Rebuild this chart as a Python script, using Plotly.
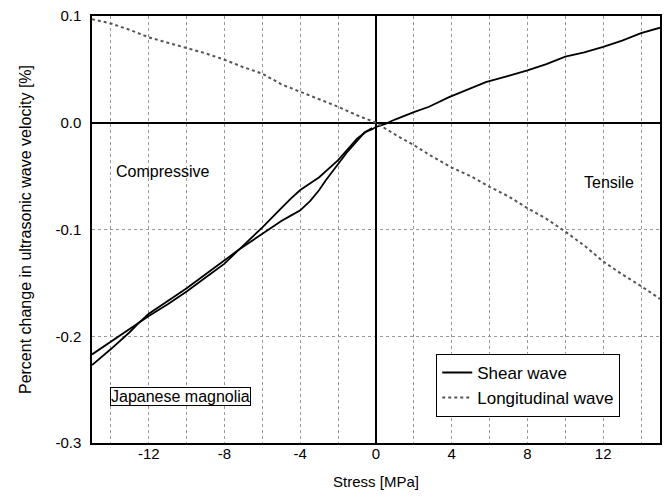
import plotly.graph_objects as go

# Shear wave, compressive branch 1 (lower at far left)
shear_b_x = [-15, -14, -13, -12.5, -12, -11, -10, -9, -8, -7.25, -6, -5, -4.5, -4, -3.46, -3, -2.66, -2, -1.5, -1, -0.6, -0.2, 0]
shear_b_y = [-0.227, -0.212, -0.196, -0.187, -0.179, -0.167, -0.155, -0.142, -0.129, -0.119, -0.104, -0.092, -0.087, -0.082, -0.073, -0.063, -0.054, -0.038, -0.027, -0.017, -0.009, -0.006, -0.004]
# Shear wave, tensile part
shear_t_x = [0, 0.5, 1, 2, 2.8, 3.86, 5, 5.8, 7, 8, 9, 10, 11, 12, 13, 14, 15]
shear_t_y = [-0.004, -0.001, 0.003, 0.010, 0.015, 0.024, 0.032, 0.038, 0.044, 0.049, 0.055, 0.062, 0.066, 0.071, 0.077, 0.084, 0.089]
# Shear wave, compressive branch 2 (upper at far left)
shear_a_x = [-15, -14, -13, -12.5, -12, -11, -10, -9, -8, -7.25, -6, -5, -4.5, -4, -3, -2, -1.5, -1, -0.5, -0.2]
shear_a_y = [-0.217, -0.205, -0.193, -0.187, -0.181, -0.170, -0.158, -0.145, -0.132, -0.119, -0.098, -0.080, -0.071, -0.063, -0.051, -0.035, -0.025, -0.015, -0.008, -0.005]
# Longitudinal wave
long_x = [-15, -14, -13, -12, -11, -10, -9, -8, -7, -6, -5, -4, -3, -2, -1, 0, 1, 2, 3, 4, 5, 6, 7, 8, 9, 10, 11, 12, 13, 14, 15]
long_y = [0.097, 0.093, 0.087, 0.080, 0.075, 0.070, 0.065, 0.059, 0.052, 0.046, 0.036, 0.029, 0.022, 0.015, 0.007, 0.0,
          -0.011, -0.021, -0.032, -0.042, -0.050, -0.060, -0.069, -0.080, -0.090, -0.102, -0.115, -0.130, -0.142, -0.153, -0.165]

x_ticks = [-12, -8, -4, 0, 4, 8, 12]
x_labels = ["-12", "-8", "-4", "0", "4", "8", "12"]
y_ticks = [0.1, 0.0, -0.1, -0.2, -0.3]
y_labels = ["0.1", "0.0", "-0.1", "-0.2", "-0.3"]

FONT = "Liberation Sans, Arial, sans-serif"

fig = go.Figure()
fig.add_trace(go.Scatter(
    x=shear_b_x + shear_t_x[1:] + [None] + shear_a_x,
    y=shear_b_y + shear_t_y[1:] + [None] + shear_a_y,
    mode="lines", name="Shear wave",
    line=dict(color="black", width=1.8),
))
fig.add_trace(go.Scatter(
    x=long_x, y=long_y, mode="lines", name="Longitudinal wave",
    line=dict(color="#555555", width=2, dash="dot"),
))

fig.add_annotation(x=-11.3, y=-0.046, text="Compressive", showarrow=False,
                   font=dict(family=FONT, size=16, color="black"))
fig.add_annotation(x=12.3, y=-0.056, text="Tensile", showarrow=False,
                   font=dict(family=FONT, size=16, color="black"))
fig.add_annotation(x=-10.3, y=-0.2567, text="Japanese magnolia", showarrow=False,
                   font=dict(family=FONT, size=16, color="black"),
                   bordercolor="black", borderwidth=1, borderpad=0, bgcolor="white")

axis_common = dict(
    showline=True, linecolor="black", linewidth=1.5, mirror=True,
    ticks="", gridcolor="#999999", griddash="dot", gridwidth=1,
    zeroline=True, zerolinecolor="black", zerolinewidth=1.5,
    tickfont=dict(family=FONT, size=15, color="black"),
)

fig.update_layout(
    width=669, height=500,
    margin=dict(l=92, r=7, t=14, b=57),
    plot_bgcolor="white", paper_bgcolor="white",
    font=dict(family=FONT, size=16, color="black"),
    showlegend=True,
    legend=dict(x=0.93, y=0.061, xanchor="right", yanchor="bottom",
                bordercolor="black", borderwidth=1, bgcolor="white",
                font=dict(family=FONT, size=17, color="black"),
                tracegroupgap=0, itemwidth=30),
    xaxis=dict(range=[-15, 15], tickvals=x_ticks, ticktext=x_labels,
               minor=dict(dtick=2, showgrid=True, gridcolor="#999999", griddash="dot", gridwidth=1),
               title=dict(text="Stress [MPa]", standoff=16, font=dict(family=FONT, size=15)),
               ticklabelstandoff=-4,
               **axis_common),
    yaxis=dict(range=[-0.3, 0.1], tickvals=y_ticks, ticktext=y_labels,
               title=dict(text="Percent change in ultrasonic wave velocity [%]", standoff=20,
                          font=dict(family=FONT, size=16)),
               ticklabelstandoff=6,
               **axis_common),
)

fig.write_html("out.html")
